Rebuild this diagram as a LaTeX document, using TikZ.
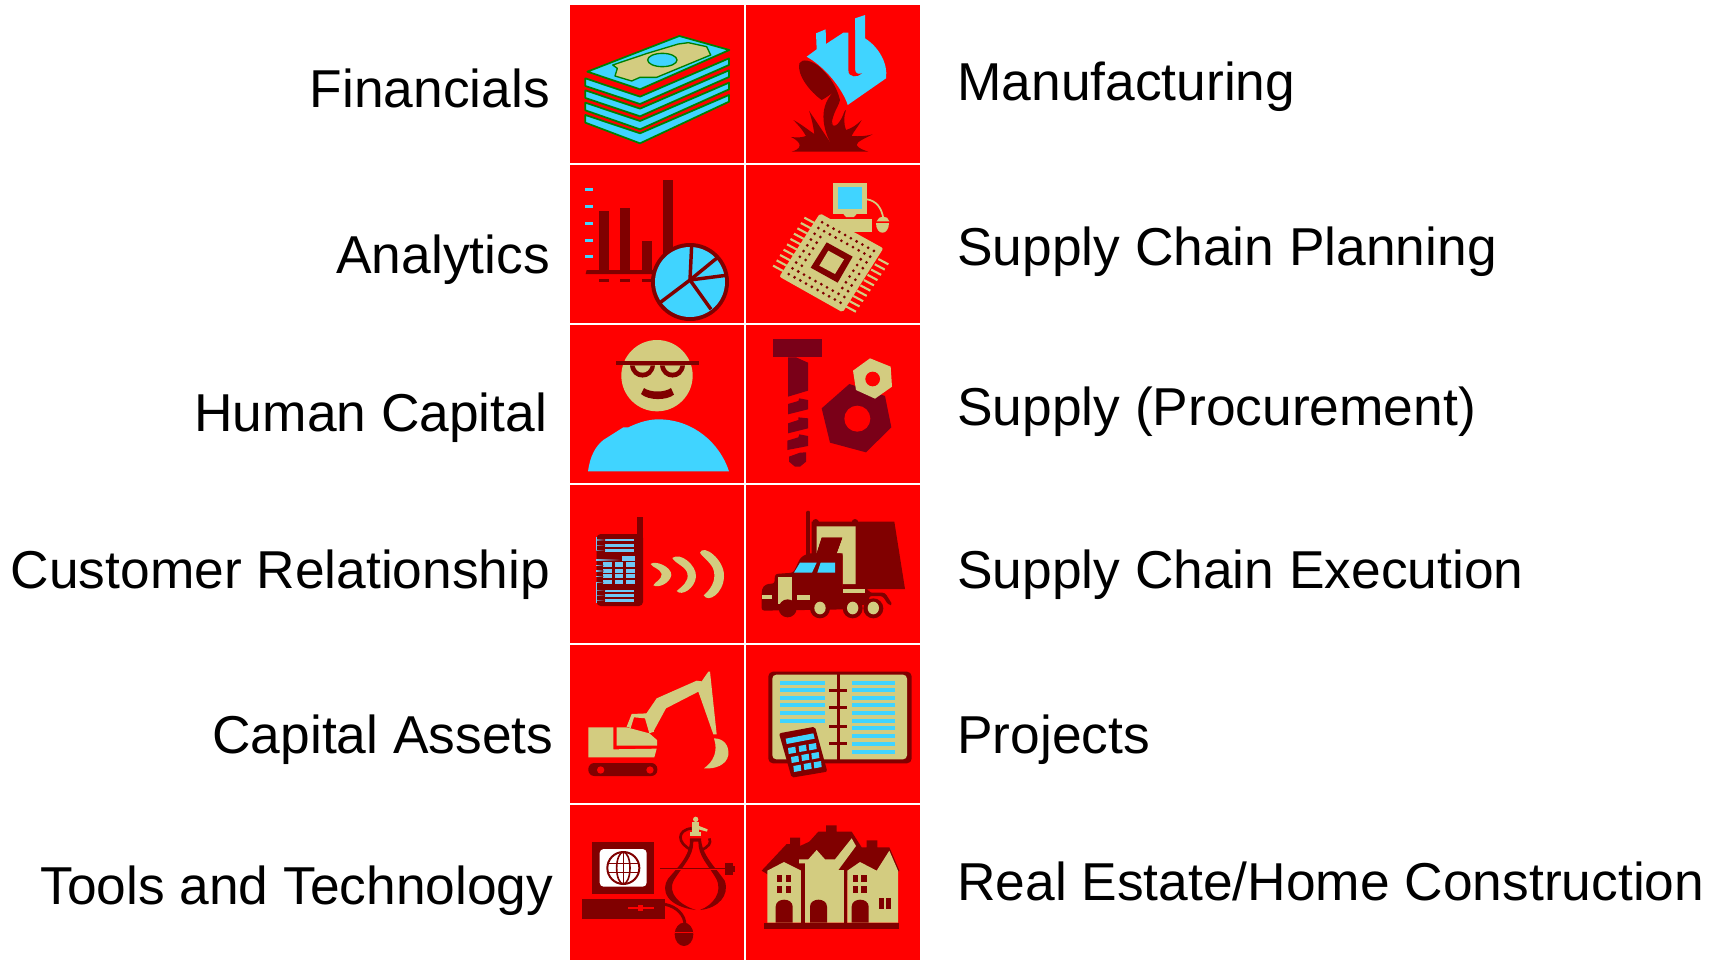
\documentclass[tikz,border=0pt]{standalone}
\usepackage{fontspec}
\setmainfont{Liberation Sans}
\definecolor{rd}{HTML}{FF0000}
\definecolor{cy}{HTML}{40D4FF}
\definecolor{kh}{HTML}{D3CC80}
\definecolor{dk}{HTML}{800000}
\definecolor{bt}{HTML}{7A0018}
\definecolor{gn}{HTML}{008000}
\definecolor{lc}{HTML}{70C8F5}
\tikzset{
 lefttext/.style={anchor=base east,font=\fontsize{40}{48}\selectfont,inner sep=0pt},
 righttext/.style={anchor=base west,font=\fontsize{40}{48}\selectfont,inner sep=0pt},
 zoomA/.style={shift={(560,0)},x=0.25pt,y=-0.25pt},
 zoomB/.style={shift={(560,320)},x=0.25pt,y=-0.25pt},
 zoomC/.style={shift={(560,640)},x=0.25pt,y=-0.25pt},
 layer/.style={fill=cy,draw=gn,line width=1.3pt,line join=round},
}
\begin{document}
\begin{tikzpicture}[x=0.75pt,y=-0.75pt]
\useasboundingbox (0,0) rectangle (1718,960);
\fill[white] (0,0) rectangle (1718,960);
\fill[rd] (570,5) rectangle (920,960);
\foreach \yy in {164,324,484,644,804} \fill[white] (570,\yy-1) rectangle (920,\yy+1);
\fill[white] (744,5) rectangle (746,960);

% labels
\node[lefttext] (t1) at (550,107) {Financials};
\node[lefttext] (t2) at (550,273) {Analytics};
\node[lefttext] (t3) at (547.5,431) {Human Capital};
\node[lefttext] (t4) at (550.5,588) {Customer Relationship};
\node[lefttext] (t5) at (553.5,753) {Capital Assets};
\node[lefttext] (t6) at (553.5,904) {Tools and Technology};
\node[righttext] (r1) at (957,100) {Manufacturing};
\node[righttext] (r2) at (957,265) {Supply Chain Planning};
\node[righttext] (r3) at (957,425) {Supply (Procurement)};
\node[righttext] (r4) at (957,588) {Supply Chain Execution};
\node[righttext] (r5) at (957,753) {Projects};
\node[righttext] (r6) at (957,900) {Real Estate/Home Construction};

% === money
\begin{scope}[zoomA]
\foreach \o/\e in {110/8,73/3,36/1,0/0}{
 \filldraw[layer,shift={(0,\o)}] (76,235) -- (240,290) -- (507,175) -- (507,195) -- (240,312+\e) -- (76,258) -- cycle;
}
\filldraw[layer] (358,108) -- (508,150) -- (240,268) -- (82,215) -- cycle;
\filldraw[fill=kh,draw=gn,line width=1pt,line join=round] (262,160) -- (355,132) -- (385,128) -- (440,140) -- (452,165) -- (290,232) -- (240,232) -- (215,243) -- (165,228) -- (172,205) -- (158,195) -- cycle;
\filldraw[fill=cy,draw=gn,line width=1pt] (307,180) ellipse (44 and 20);
\end{scope}

% === ladle
\begin{scope}[zoomA,shift={(660,30)}]
\fill[cy] (80,140) -- (110,118) -- (108,70) -- (137,58) -- (138,102) -- (190,68) -- (225,68) -- (225,25) -- (255,15) -- (255,85) .. controls (295,110) and (325,160) .. (318,205) -- (203,285) .. controls (195,255) and (150,180) .. (80,140) -- cycle;
\fill[rd] (205,60) -- (225,60) -- (225,175) .. controls (225,190) and (232,194) .. (246,190) .. controls (235,202) and (205,205) .. (205,180) -- cycle;
% mouth and stream
\fill[dk] (58,160) .. controls (65,145) and (95,150) .. (120,172) .. controls (150,200) and (170,230) .. (180,270) .. controls (178,285) and (160,305) .. (155,340) -- (150,396) .. controls (125,345) and (120,290) .. (158,248) .. controls (145,258) and (135,265) .. (125,270) .. controls (90,245) and (50,195) .. (58,160) -- cycle;
% splash
\fill[dk] (35,425) .. controls (62,418) and (72,400) .. (33,381) .. controls (50,383) and (65,383) .. (78,378) .. controls (68,360) and (55,345) .. (40,330) .. controls (60,340) and (85,360) .. (103,372) .. controls (100,350) and (95,325) .. (87,302) -- (150,396) -- (150,345) -- (198,300) .. controls (190,320) and (192,345) .. (198,360) .. controls (215,355) and (230,345) .. (245,330) .. controls (235,350) and (220,365) .. (215,378) .. controls (240,380) and (260,378) .. (278,373) .. controls (255,385) and (230,395) .. (230,405) .. controls (235,415) and (250,420) .. (265,425) -- cycle;
\fill[rd] (197,288) .. controls (180,300) and (152,330) .. (158,345) .. controls (168,355) and (190,325) .. (197,288) -- cycle;
\end{scope}

% === chart
\begin{scope}[zoomA]
\foreach \yy in {564,615,666,717,765} \fill[cy] (75,\yy) rectangle (100,\yy+9);
\foreach \xx/\tp in {117/634,181/623,246/723,310/540} \fill[dk] (\xx,\tp) rectangle (\xx+30,820);
\fill[dk] (80,810) -- (290,810) -- (290,822) -- (77,822) -- cycle;
\foreach \xx in {117,181,246} \fill[dk] (\xx,838) rectangle (\xx+30,846);
\fill[dk] (390,846) circle (117);
\fill[cy] (390,846) circle (105);
\foreach \ex/\ey in {395/735,472/773,498/826,453/928,300/908}
 \draw[dk,line width=2.6pt] (390,840) -- (\ex,\ey);
\end{scope}

% === chip
\begin{scope}[zoomA]
\fill[kh] (820,549) rectangle (920,642);
\fill[cy] (834,561) rectangle (906,627);
\fill[kh] (850,642) -- (890,642) -- (882,651) -- (858,651) -- cycle;
\draw[kh,line width=1.3pt] (920,598) .. controls (950,602) and (965,625) .. (970,655);
\fill[kh] (810,658) rectangle (937,696);
\fill[kh] (948,669) -- (988,669) .. controls (988,708) and (948,708) .. (948,669) -- cycle;
\fill[kh] (950,664) .. controls (955,645) and (985,645) .. (988,664) -- cycle;
\foreach \i in {0,...,9}{
 \draw[kh,line width=1.6pt] ({733-\i*10.4},{653+\i*16}) -- ++(30,16);
 \draw[kh,line width=1.6pt] ({985-\i*10.8},{793+\i*15.8}) -- ++(-30,-16);
}
\fill[kh,rounded corners=1.5pt] (780,640) -- (970,745) -- (848,937) -- (658,830) -- cycle;
\foreach \i in {1,...,10}{\foreach \j in {1,...,10}{
 \pgfmathtruncatemacro{\ok}{(\i<=2||\i>=9||\j<=2||\j>=9)?1:0}
 \ifnum\ok=1
  \fill[dk] ({780+190*\i/11-122*\j/11},{640+105*\i/11+190*\j/11}) circle (4.6);
 \fi
}}
\fill[dk] (800,727) -- (878,770) -- (833,848) -- (752,803) -- cycle;
\fill[kh] (805,752) -- (852,778) -- (825,822) -- (778,797) -- cycle;
\end{scope}

% === person
\begin{scope}[zoomB]
\fill[kh] (291,167) circle (107);
\fill[dk] (168,124) rectangle (416,136);
\fill[dk] (210,136) .. controls (215,185) and (280,185) .. (285,136) -- cycle;
\fill[dk] (300,136) .. controls (305,185) and (370,185) .. (375,136) -- cycle;
\fill[kh] (224,137) .. controls (230,165) and (265,165) .. (272,137) -- cycle;
\fill[kh] (314,137) .. controls (320,165) and (355,165) .. (361,137) -- cycle;
\fill[dk] (252,204) .. controls (270,218) and (315,218) .. (333,204) -- (342,224) .. controls (320,242) and (265,242) .. (243,222) -- cycle;
\fill[cy] (84,454) .. controls (90,410) and (105,380) .. (130,360) -- (190,322) -- (205,322) .. controls (240,305) and (270,298) .. (295,298) .. controls (400,298) and (480,370) .. (507,454) -- cycle;
\end{scope}

% === bolt & nuts
\begin{scope}[zoomB,bt]
\fill (640,57) rectangle (785,112);
\fill (684,112) -- (708,112) -- (744,128) -- (744,212) -- (684,230) -- cycle;
\fill (684,252) -- (715,243) -- (718,235) -- (744,240) -- (744,268) -- (684,283) -- cycle;
\fill (684,310) -- (715,300) -- (715,292) -- (744,295) -- (744,325) -- (684,340) -- cycle;
\fill (682,362) -- (715,352) -- (718,343) -- (744,348) -- (744,378) -- (682,390) -- cycle;
\fill (687,410) -- (720,398) -- (738,397) -- (738,425) -- (720,440) -- (705,440) -- (687,425) -- cycle;
\fill (868,192) -- (975,228) -- (994,322) -- (918,397) -- (810,368) -- (785,265) -- cycle;
\fill[rd] (892,296) circle (39);
\fill[kh] (930,115) -- (992,140) -- (996,200) -- (945,236) -- (888,210) -- (879,152) -- cycle;
\fill[rd] (938,177) circle (22);
\end{scope}

% === phone
\begin{scope}[zoomB]
\fill[dk] (232,592) rectangle (249,660);
\fill[dk,rounded corners=3pt] (110,642) rectangle (249,858);
\foreach \yy in {660,676,691,812,826,841}{
 \fill[lc] (135,\yy-3.5) rectangle (222,\yy+3.5);
 \shade[left color=lc!70!dk,right color=dk] (108,\yy-0.8) rectangle (135,\yy+0.8);
}
\fill[lc] (185,709) rectangle (224,722);
\shade[left color=lc,right color=dk] (108,717) rectangle (180,720);
\foreach \xx in {130,165,199}\foreach \yy in {727,746,762,780} \fill[lc] (\xx,\yy) rectangle (\xx+25,\yy+13);
\foreach \yy in {736,753,769,787} \shade[left color=lc,right color=dk] (108,\yy-1) rectangle (130,\yy+1);
\fill[lc] (107,652) rectangle (110,690);
\fill[lc] (107,785) rectangle (110,850);
\fill[kh] (272,732) .. controls (285,720) and (335,740) .. (334,765) .. controls (330,790) and (295,805) .. (280,796) .. controls (285,785) and (305,780) .. (305,762) .. controls (300,745) and (280,745) .. (272,732) -- cycle;
\fill[kh] (337,714) .. controls (360,695) and (410,735) .. (408,770) .. controls (405,805) and (365,830) .. (350,813) .. controls (365,800) and (388,785) .. (382,760) .. controls (378,740) and (345,730) .. (337,714) -- cycle;
\fill[kh] (420,698) .. controls (430,670) and (495,720) .. (492,770) .. controls (490,820) and (445,850) .. (431,826) .. controls (450,810) and (468,785) .. (462,755) .. controls (458,730) and (430,715) .. (420,698) -- cycle;
\end{scope}

% === truck
\begin{scope}[zoomB]
\draw[dk,line width=3pt,line cap=round] (745,578) -- (745,705);
\fill[dk] (767,607) circle (10);
\fill[dk] (885,607) circle (10);
\fill[dk] (755,605) -- (1003,605) -- (1035,807) -- (848,807) -- (848,720) -- (755,720) -- cycle;
\fill[kh] (770,619) -- (887,619) -- (887,792) -- (848,792) -- (848,700) -- (830,700) -- (847,653) -- (785,653) -- (770,700) -- cycle;
\fill[dk] (848,700) -- (770,700) -- (785,653) -- (847,653) -- (830,700) -- cycle;
\fill[dk,rounded corners=2pt] (605,872) -- (605,815) .. controls (610,795) and (625,790) .. (643,792) -- (645,762) -- (700,758) -- (722,712) -- (745,700) -- (848,700) -- (848,807) -- (927,807) -- (927,818) -- (975,818) -- (998,855) -- (985,855) -- (968,828) -- (927,828) -- (927,850) -- (860,868) -- cycle;
\fill[cy] (720,728) -- (770,728) -- (756,758) -- (702,758) -- cycle;
\fill[cy] (782,728) -- (825,728) -- (825,758) -- (772,758) -- cycle;
\fill[kh] (654,771) rectangle (696,852);
\fill[kh] (606,825) rectangle (635,838);
\fill[kh] (711,825) rectangle (750,840);
\fill[kh] (848,807) rectangle (915,818);
\fill[dk] (683,865) circle (27);
\foreach \wx in {780,878,940}{
 \fill[dk] (\wx,865) circle (30);
 \fill[kh] (\wx,864) ellipse (17 and 19);
}
\end{scope}

% === excavator
\begin{scope}[zoomC]
\fill[kh] (85,262) -- (160,262) -- (160,328) -- (290,326) -- (283,352) -- (85,352) -- cycle;
\fill[kh] (170,262) -- (200,262) -- (268,280) -- (291,300) -- (291,317) -- (170,317) -- cycle;
\fill[kh] (215,222) -- (262,220) -- (282,275) -- (268,280) -- (255,235) -- (222,232) -- (212,264) -- (200,260) -- cycle;
\fill[kh] (258,222) -- (290,175) -- (410,122) -- (425,124) -- (445,95) -- (450,95) -- (470,283) -- (460,283) -- (415,155) -- (318,205) -- (280,275) -- cycle;
\fill[kh] (462,295) .. controls (490,295) and (508,315) .. (505,345) .. controls (500,375) and (465,388) .. (432,385) .. controls (460,365) and (475,335) .. (462,295) -- cycle;
\fill[dk,rounded corners=4.5pt] (85,369) rectangle (292,408);
\fill[rd] (122,390) circle (11);
\fill[rd] (270,390) circle (11);
\end{scope}

% === book
\begin{scope}[zoomC]
\fill[dk,rounded corners=3.5pt] (625,95) rectangle (1055,370);
\fill[kh,rounded corners=3pt] (637,104) rectangle (1041,358);
\fill[dk] (830,100) rectangle (841,360);
\foreach \yy in {151,203,259,311} \fill[dk] (808,\yy-5) rectangle (861,\yy+5);
\foreach \yy in {129,150,174,195,219,243} \fill[cy] (660,\yy-6) rectangle (795,\yy+6);
\foreach \yy in {129,150,174,195,219,243,264,288,312,336} \fill[cy] (876,\yy-6) rectangle (1005,\yy+6);
\fill[dk,rounded corners=1.5pt] (657,280) -- (765,260) -- (802,395) -- (695,413) -- cycle;
\fill[cy] (677,296) -- (760,280) -- (764,296) -- (680,312) -- cycle;
\foreach \bx/\by in {696/331,728/325,758/320,705/358,736/352,766/347,712/385,743/379,773/374}
 \fill[cy,shift={(\bx,\by)}] (-12,-7) -- (10,-11) -- (12,7) -- (-10,11) -- cycle;
\end{scope}

% === computer
\begin{scope}[zoomC]
\fill[dk] (96,606) rectangle (281,761);
\fill[white,rounded corners=3pt] (119,627) rectangle (260,740);
\draw[dk,line width=1.5pt] (190,684) circle (48);
\draw[dk,line width=1.2pt] (190,684) ellipse (20 and 48);
\draw[dk,line width=1.2pt] (190,636) -- (190,732) (145,670) -- (235,670) (145,698) -- (235,698);
\fill[dk] (66,777) rectangle (315,836);
\fill[rd] (203,800) rectangle (283,806);
\fill[rd] (233,795) rectangle (250,812);
\draw[dk,line width=2.2pt] (315,793) .. controls (350,800) and (375,825) .. (375,855);
\fill[dk] (372,883) ellipse (28 and 35);
\fill[rd] (344,875) rectangle (400,880);
\end{scope}

% === compass (crop coordinates)
\begin{scope}[zoomC,shift={(270,510)}]
\draw[dk,line width=2pt] (125,120) .. controls (80,100) and (80,60) .. (125,55);
\draw[dk,line width=2pt] (155,120) .. controls (175,110) and (185,100) .. (178,85);
\fill[dk] (120,85) .. controls (122,130) and (95,160) .. (55,205) .. controls (30,240) and (50,290) .. (138,300) .. controls (90,285) and (50,250) .. (72,210) .. controls (100,165) and (130,140) .. (130,95) -- (145,95) .. controls (145,140) and (175,165) .. (198,205) .. controls (220,245) and (190,285) .. (150,300) .. controls (205,295) and (240,255) .. (224,212) .. controls (195,170) and (155,135) .. (153,85) -- cycle;
\draw[rd,line width=1.6pt] (30,176) -- (235,176);
\draw[dk,line width=1.2pt] (30,176) -- (235,176);
\fill[dk] (226,160) rectangle (248,195);
\fill[dk] (226,168) rectangle (255,185);
\fill[kh] (137,28) circle (8);
\fill[kh] (127,35) rectangle (147,65);
\fill[kh] (145,47) -- (173,58) -- (171,65) -- (145,58) -- cycle;
\fill[kh] (120,65) rectangle (153,78);
\end{scope}

% === houses
\begin{scope}[zoomC]
\fill[dk] (605,692) -- (680,612) -- (690,612) -- (690,593) -- (720,593) -- (720,618) -- (748,605) -- (775,575) -- (798,575) -- (798,556) -- (830,556) -- (830,575) -- (875,575) -- (905,622) -- (920,622) -- (920,601) -- (952,601) -- (952,622) -- (988,622) -- (1018,692) -- (980,720) -- (650,720) -- cycle;
\fill[kh] (622,692) -- (672,666) -- (724,692) -- (724,848) -- (622,848) -- cycle;
\fill[dk] (724,690) rectangle (735,848);
\fill[kh] (735,848) -- (735,670) -- (717,670) -- (717,658) -- (745,658) -- (770,630) -- (795,658) -- (825,658) -- (875,595) -- (888,618) -- (835,690) -- (852,690) -- (852,848) -- cycle;
\fill[dk] (852,690) rectangle (862,848);
\fill[kh] (862,848) -- (862,692) -- (900,666) -- (950,692) -- (988,632) -- (1014,692) -- (1014,848) -- cycle;
\foreach \xx in {647,750,875}
 \fill[dk] (\xx,848) -- (\xx,800) .. controls (\xx,772) and (\xx+51,772) .. (\xx+51,800) -- (\xx+51,848) -- cycle;
\foreach \xx in {651,677,878,904}{
 \fill[dk] (\xx,706) rectangle (\xx+16,727);
 \fill[dk] (\xx,737) rectangle (\xx+16,759);
}
\fill[dk] (958,773) rectangle (973,806);
\fill[dk] (979,773) rectangle (994,806);
\fill[dk] (612,848) rectangle (1018,868);
\end{scope}
\end{tikzpicture}
\end{document}
